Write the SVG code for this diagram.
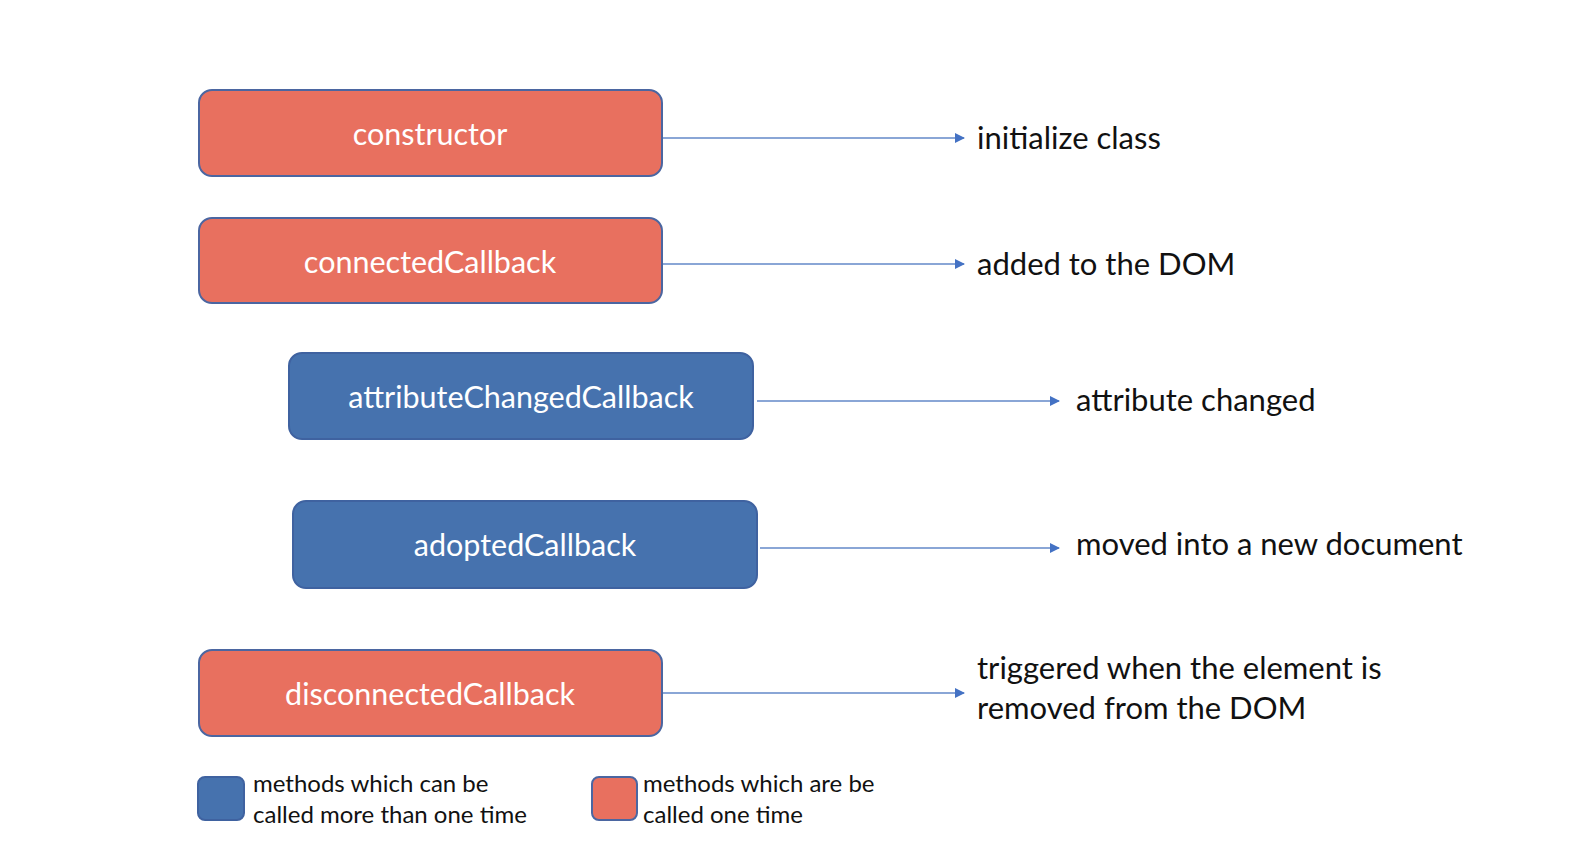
<svg xmlns="http://www.w3.org/2000/svg" width="1570" height="866" viewBox="0 0 1570 866">
<defs>
<style>
.red{fill:#E8705F;stroke:#4B66A1;stroke-width:2}
.blue{fill:#4672AE;stroke:#3F62A0;stroke-width:2}
.bt{font-family:Lato,"Open Sans",sans-serif;font-size:30.5px;fill:#fff;text-anchor:middle}
.lt{font-family:Lato,"Open Sans",sans-serif;font-size:31px;fill:#111}
.lg{font-family:Lato,"Open Sans",sans-serif;font-size:24px;fill:#111}
.conn{stroke:#8AA6D6;stroke-width:2;fill:none;marker-end:url(#arr)}
</style>
<marker id="arr" viewBox="0 0 10 10" refX="9" refY="5" markerWidth="10" markerHeight="10" markerUnits="userSpaceOnUse" orient="auto"><path d="M0,0 L10,5 L0,10 z" fill="#4472C4"/></marker>
</defs>
<rect width="1570" height="866" fill="#fff"/>
<g id="connectors">
<path class="conn" d="M662,138 H964"/>
<path class="conn" d="M662,264 H964"/>
<path class="conn" d="M757,401 H1059"/>
<path class="conn" d="M760,548 H1059"/>
<path class="conn" d="M662,693 H964"/>
</g>
<g id="constructor"><rect class="red" x="199" y="90" width="463" height="86" rx="13"/><text class="bt" x="430" y="145">constructor</text></g>
<g id="connectedCallback"><rect class="red" x="199" y="218" width="463" height="85" rx="13"/><text class="bt" x="430" y="273">connectedCallback</text></g>
<g id="attributeChangedCallback"><rect class="blue" x="289" y="353" width="464" height="86" rx="13"/><text class="bt" x="521" y="408">attributeChangedCallback</text></g>
<g id="adoptedCallback"><rect class="blue" x="293" y="501" width="464" height="87" rx="13"/><text class="bt" x="525" y="556">adoptedCallback</text></g>
<g id="disconnectedCallback"><rect class="red" x="199" y="650" width="463" height="86" rx="13"/><text class="bt" x="430" y="705">disconnectedCallback</text></g>
<g id="label-initialize"><text class="lt" x="977" y="149">initialize class</text></g>
<g id="label-added"><text class="lt" x="977" y="275">added to the DOM</text></g>
<g id="label-attribute"><text class="lt" x="1076" y="411">attribute changed</text></g>
<g id="label-moved"><text class="lt" x="1076" y="555">moved into a new document</text></g>
<g id="label-triggered"><text class="lt" x="977" y="679">triggered when the element is</text><text class="lt" x="977" y="719">removed from the DOM</text></g>
<g id="legend-blue"><rect class="blue" x="198" y="777" width="46" height="43" rx="7"/><text class="lg" x="253" y="792">methods which can be</text><text class="lg" x="253" y="823">called more than one time</text></g>
<g id="legend-red"><rect class="red" x="592" y="777" width="45" height="43" rx="7"/><text class="lg" x="643" y="792">methods which are be</text><text class="lg" x="643" y="823">called one time</text></g>
</svg>
